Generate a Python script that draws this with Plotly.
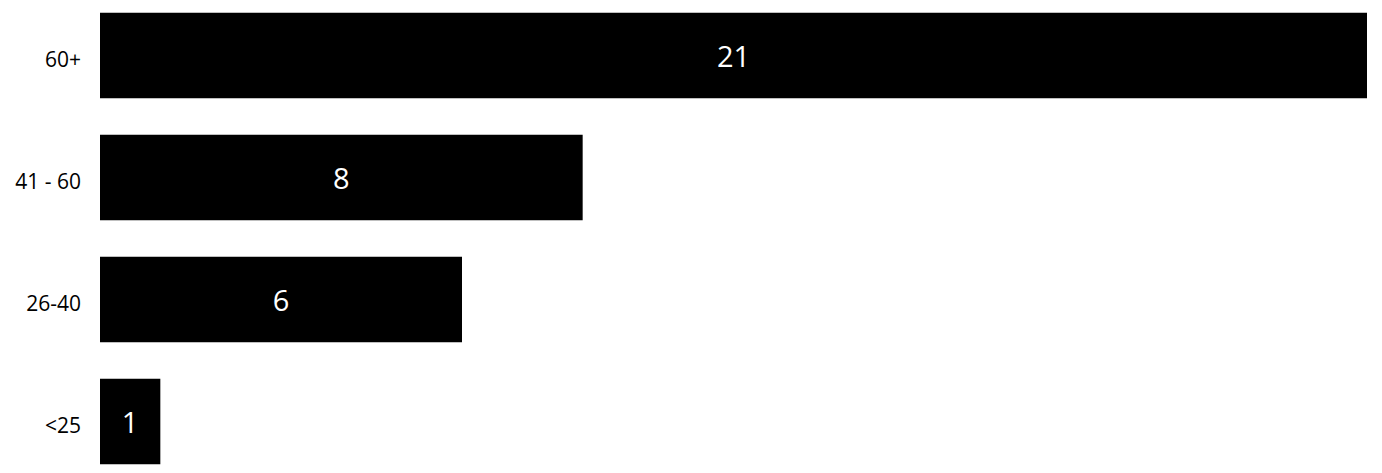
import plotly.graph_objects as go

# age groups, bottom to top
age_groups = ["<25", "26-40", "41 - 60", "60+"]
counts = [1, 6, 8, 21]

fig = go.Figure(
    go.Bar(
        x=counts,
        y=age_groups,
        orientation="h",
        marker=dict(color="#000000", line=dict(width=0)),
        text=counts,
        textposition="inside",
        insidetextanchor="middle",
        textfont=dict(color="#ffffff", size=29, family="Open Sans"),
        hoverinfo="x+y",
    )
)

fig.update_layout(
    width=1382,
    height=473,
    margin=dict(l=92, r=23, t=0, b=0),
    paper_bgcolor="white",
    plot_bgcolor="white",
    bargap=0.3,
    showlegend=False,
    font=dict(family="Open Sans", size=16, color="#000000"),
)
fig.update_xaxes(range=[0, 21], visible=False, fixedrange=True)
fig.update_yaxes(
    range=[-0.4877, 3.389],
    showgrid=False,
    zeroline=False,
    showline=False,
    ticks="",
    ticklabelstandoff=18,
    ticklabelshift=4,
    tickfont=dict(size=21, color="#000000"),
    fixedrange=True,
)

fig.write_html("out.html", config={"displayModeBar": False})
